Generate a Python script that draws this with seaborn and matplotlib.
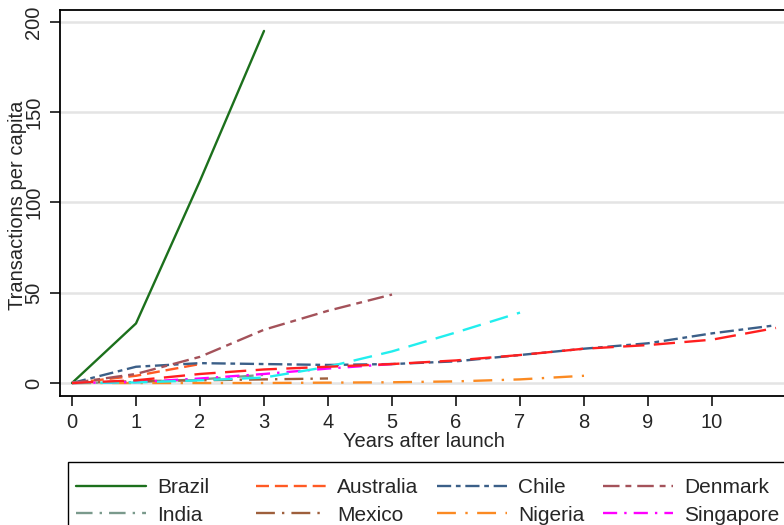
import numpy as np
import pandas as pd
import matplotlib
matplotlib.use("Agg")
import matplotlib.pyplot as plt
import matplotlib.patches as mpatches
import seaborn as sns

# values (transactions per capita by years after launch)
brazil = [0, 33, 112, 195]
australia = [0, 4, 10.5]
chile = [0, 9, 11, 10.5, 10, 10.5, 12, 15.5, 19, 22, 27.5, 32]
denmark = [0, 5, 14.5, 29.5, 40, 49]
india = [0, 0.5, 2, 4.5]
mexico = [0, 1, 1.5, 2, 2.5]
nigeria = [0, 0, 0, 0, 0.2, 0.4, 0.9, 2, 4]
singapore = [0, 0.5, 2.5, 5, 8, 10.5]
thailand = [0, 0.3, 1.5, 3, 9, 17.5, 28, 39]
uk = [0, 1.5, 5, 7.5, 9, 10.5, 12.5, 15.5, 19, 21, 24, 30.5]

countries = ["Brazil", "Australia", "Chile", "Denmark", "India", "Mexico",
             "Nigeria", "Singapore", "Thailand", "UK"]
series = [brazil, australia, chile, denmark, india, mexico,
          nigeria, singapore, thailand, uk]
colors = ["#1c701c", "#ff5a24", "#3b5f88", "#a4525a", "#7a9a8c", "#9e5f3c",
          "#fb8a22", "#ff00ff", "#22eeee", "#ff1f1f"]
dash_styles = ["", (5.5, 2.5), (6, 2, 2, 2), (7, 2.5, 2.5, 2.5), (7, 3, 1, 3),
               (8, 3, 1, 3), (8, 4, 1, 4), (6, 3, 1, 3), (8, 4), (9, 4)]

rows = []
for name, vals in zip(countries, series):
    for yr, v in enumerate(vals):
        rows.append({"year": yr, "value": v, "country": name})
df = pd.DataFrame(rows)

sns.set_style("white")
plt.rcParams["font.family"] = ["Liberation Sans", "DejaVu Sans"]

fig = plt.figure(figsize=(7.84, 5.25), dpi=100)
W, H = 784, 525
x0, x1 = -0.1875, 11.3
px_per_x = 64
ax_w = (x1 - x0) * px_per_x
ax = fig.add_axes([60 / W, 1 - 396 / H, ax_w / W, 386 / H])

sns.lineplot(data=df, x="year", y="value", hue="country", style="country",
             hue_order=countries, style_order=countries,
             palette=dict(zip(countries, colors)),
             dashes=dict(zip(countries, dash_styles)),
             linewidth=1.7, ax=ax, legend=True)

ax.set_xlim(x0, x1)
ax.set_ylim(-7.2, 206.6)
ax.set_xticks(range(0, 11))
ax.set_yticks([0, 50, 100, 150, 200])
ax.yaxis.grid(True, color="#e4e4e4", lw=1.8)
ax.set_axisbelow(True)
for s in ["left", "bottom", "top"]:
    ax.spines[s].set_color("black")
    ax.spines[s].set_linewidth(1.3)
ax.spines["right"].set_visible(False)
ax.tick_params(axis="both", direction="out", length=7, width=1.1,
               labelsize=14.5, color="black", pad=5,
               left=True, bottom=True)
ax.tick_params(axis="y", labelrotation=90)
for t in ax.get_yticklabels():
    t.set_va("center")

ax.set_xlabel("Years after launch", fontsize=14.5)
ax.set_ylabel("Transactions per capita", fontsize=14.5)
ax.xaxis.set_label_coords((424 - 60) / ax_w, (396 - 432) / 386)
ax.yaxis.set_label_coords((27 - 60) / ax_w, (396 - 205) / 386)

# legend box drawn by hand, entries in row-major order with 4 columns
fig.patches.append(mpatches.Rectangle((68 / W, -0.2), 1.0, 1 - 462 / H + 0.2,
                                      transform=fig.transFigure, fill=False,
                                      ec="black", lw=1.0))
handles, labels = ax.get_legend_handles_labels()
hmap = dict(zip(labels, handles))
order = [0, 4, 8, 1, 5, 9, 2, 6, 3, 7]
leg = ax.legend([hmap[countries[i]] for i in order], [countries[i] for i in order],
                ncol=4, loc="upper left", bbox_to_anchor=(76 / W, 1 - 478 / H),
                bbox_transform=fig.transFigure, fontsize=15, frameon=False,
                handlelength=3.36, handletextpad=0.53, columnspacing=0.9,
                borderpad=0, labelspacing=0.42, borderaxespad=0)

fig.savefig("out.png", dpi=100)
